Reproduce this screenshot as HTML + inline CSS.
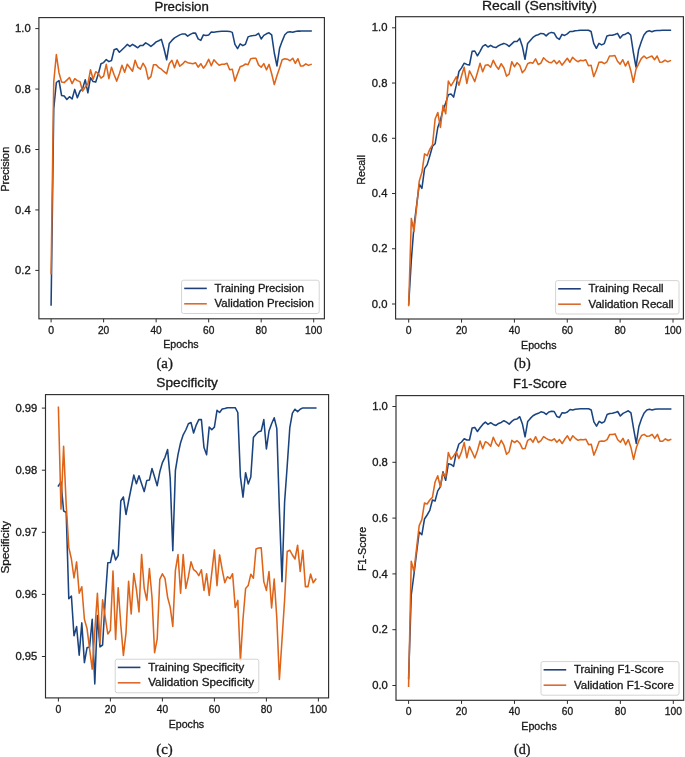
<!DOCTYPE html>
<html><head><meta charset="utf-8"><style>
html,body{margin:0;padding:0;background:#fff;}
svg{display:block;will-change:transform;}
text{fill:#1a1a1a;stroke:#1a1a1a;stroke-width:0.3px;}
</style></head><body>
<svg width="685" height="757" viewBox="0 0 685 757">
<rect width="685" height="757" fill="#ffffff"/>
<polyline points="51.10,305.00 53.73,109.00 56.35,82.50 58.98,80.50 61.60,95.50 64.23,96.00 66.86,99.50 69.48,96.70 72.11,99.00 74.73,89.40 77.36,97.70 79.99,91.10 82.61,88.60 85.24,79.70 87.86,92.80 90.49,77.70 93.12,81.60 95.74,82.10 98.37,73.70 100.99,63.70 103.62,62.60 106.25,59.60 108.87,61.60 111.50,60.50 114.12,49.80 116.75,48.80 119.38,52.30 122.00,49.80 124.63,47.30 127.25,44.40 129.88,46.40 132.51,44.40 135.13,46.00 137.76,47.80 140.38,45.40 143.01,45.40 145.64,42.90 148.26,44.40 150.89,46.40 153.51,44.40 156.14,41.90 158.77,40.70 161.39,39.40 164.02,48.80 166.64,59.80 169.27,43.40 171.90,40.40 174.52,37.90 177.15,36.40 179.77,34.90 182.40,33.90 185.03,33.90 187.65,36.10 190.28,34.40 192.90,33.10 195.53,33.10 198.16,38.90 200.78,40.40 203.41,34.90 206.03,35.40 208.66,34.90 211.29,32.00 213.91,32.20 216.54,31.70 219.16,31.40 221.79,31.30 224.42,31.20 227.04,31.20 229.67,31.40 232.29,32.40 234.92,44.40 237.55,48.60 240.17,43.90 242.80,45.60 245.42,44.30 248.05,36.90 250.68,35.90 253.30,35.60 255.93,35.20 258.55,33.30 261.18,39.00 263.81,35.40 266.43,33.80 269.06,32.80 271.68,34.80 274.31,53.00 276.94,65.90 279.56,48.30 282.19,41.10 284.81,34.80 287.44,32.30 290.07,31.70 292.69,32.30 295.32,31.50 297.94,31.10 300.57,31.10 303.20,31.00 305.82,31.00 308.45,31.00 311.07,31.00" fill="none" stroke="#1a4480" stroke-width="1.55" stroke-linejoin="round" stroke-linecap="square"/>
<polyline points="51.10,273.60 53.73,82.00 56.35,54.50 58.98,72.70 61.60,82.10 64.23,82.60 66.86,80.10 69.48,77.50 72.11,83.60 74.73,78.70 77.36,80.60 79.99,81.60 82.61,91.10 85.24,87.10 87.86,84.10 90.49,69.70 93.12,79.20 95.74,71.70 98.37,73.70 100.99,78.20 103.62,76.20 106.25,64.30 108.87,78.70 111.50,67.20 114.12,74.70 116.75,81.10 119.38,73.70 122.00,65.20 124.63,72.20 127.25,64.20 129.88,67.70 132.51,71.20 135.13,60.30 137.76,67.20 140.38,69.20 143.01,63.20 145.64,67.70 148.26,79.10 150.89,76.60 153.51,64.70 156.14,64.70 158.77,67.70 161.39,69.20 164.02,71.70 166.64,73.70 169.27,63.70 171.90,60.30 174.52,67.70 177.15,60.00 179.77,66.20 182.40,64.20 185.03,61.20 187.65,62.70 190.28,63.20 192.90,63.70 195.53,62.70 198.16,67.20 200.78,63.70 203.41,68.20 206.03,64.70 208.66,59.30 211.29,65.70 213.91,59.80 216.54,62.70 219.16,65.20 221.79,64.20 224.42,64.20 227.04,63.20 229.67,69.70 232.29,69.20 234.92,81.10 237.55,73.70 240.17,66.70 242.80,65.80 245.42,64.00 248.05,64.70 250.68,58.70 253.30,58.20 255.93,58.20 258.55,64.90 261.18,67.30 263.81,63.60 266.43,69.80 269.06,64.40 271.68,73.70 274.31,84.60 276.94,75.80 279.56,68.00 282.19,59.70 284.81,58.70 287.44,59.20 290.07,60.80 292.69,58.20 295.32,63.40 297.94,58.70 300.57,65.90 303.20,65.90 305.82,63.90 308.45,65.40 311.07,64.40" fill="none" stroke="#de6419" stroke-width="1.55" stroke-linejoin="round" stroke-linecap="square"/>
<rect x="38.90" y="17.60" width="285.50" height="301.20" fill="none" stroke="#2e2e2e" stroke-width="1.15"/>
<line x1="51.10" y1="318.80" x2="51.10" y2="322.40" stroke="#2e2e2e" stroke-width="1"/>
<text x="51.1" y="333.8" font-size="10" text-anchor="middle" font-family="Liberation Sans" textLength="5.8" lengthAdjust="spacingAndGlyphs">0</text>
<line x1="103.62" y1="318.80" x2="103.62" y2="322.40" stroke="#2e2e2e" stroke-width="1"/>
<text x="103.6" y="333.8" font-size="10" text-anchor="middle" font-family="Liberation Sans" textLength="11.3" lengthAdjust="spacingAndGlyphs">20</text>
<line x1="156.14" y1="318.80" x2="156.14" y2="322.40" stroke="#2e2e2e" stroke-width="1"/>
<text x="156.1" y="333.8" font-size="10" text-anchor="middle" font-family="Liberation Sans" textLength="11.3" lengthAdjust="spacingAndGlyphs">40</text>
<line x1="208.66" y1="318.80" x2="208.66" y2="322.40" stroke="#2e2e2e" stroke-width="1"/>
<text x="208.7" y="333.8" font-size="10" text-anchor="middle" font-family="Liberation Sans" textLength="11.3" lengthAdjust="spacingAndGlyphs">60</text>
<line x1="261.18" y1="318.80" x2="261.18" y2="322.40" stroke="#2e2e2e" stroke-width="1"/>
<text x="261.2" y="333.8" font-size="10" text-anchor="middle" font-family="Liberation Sans" textLength="11.3" lengthAdjust="spacingAndGlyphs">80</text>
<line x1="313.70" y1="318.80" x2="313.70" y2="322.40" stroke="#2e2e2e" stroke-width="1"/>
<text x="313.7" y="333.8" font-size="10" text-anchor="middle" font-family="Liberation Sans" textLength="17.2" lengthAdjust="spacingAndGlyphs">100</text>
<line x1="35.30" y1="270.40" x2="38.90" y2="270.40" stroke="#2e2e2e" stroke-width="1"/>
<text x="30.7" y="274.0" font-size="10" text-anchor="end" font-family="Liberation Sans" textLength="15.6" lengthAdjust="spacingAndGlyphs">0.2</text>
<line x1="35.30" y1="209.95" x2="38.90" y2="209.95" stroke="#2e2e2e" stroke-width="1"/>
<text x="30.7" y="213.5" font-size="10" text-anchor="end" font-family="Liberation Sans" textLength="15.6" lengthAdjust="spacingAndGlyphs">0.4</text>
<line x1="35.30" y1="149.50" x2="38.90" y2="149.50" stroke="#2e2e2e" stroke-width="1"/>
<text x="30.7" y="153.1" font-size="10" text-anchor="end" font-family="Liberation Sans" textLength="15.6" lengthAdjust="spacingAndGlyphs">0.6</text>
<line x1="35.30" y1="89.05" x2="38.90" y2="89.05" stroke="#2e2e2e" stroke-width="1"/>
<text x="30.7" y="92.6" font-size="10" text-anchor="end" font-family="Liberation Sans" textLength="15.6" lengthAdjust="spacingAndGlyphs">0.8</text>
<line x1="35.30" y1="28.60" x2="38.90" y2="28.60" stroke="#2e2e2e" stroke-width="1"/>
<text x="30.7" y="32.2" font-size="10" text-anchor="end" font-family="Liberation Sans" textLength="15.6" lengthAdjust="spacingAndGlyphs">1.0</text>
<text x="181.6" y="11.2" font-size="12" text-anchor="middle" font-family="Liberation Sans" textLength="54.4" lengthAdjust="spacingAndGlyphs">Precision</text>
<text x="180.9" y="348.4" font-size="10" text-anchor="middle" font-family="Liberation Sans" textLength="35.5" lengthAdjust="spacingAndGlyphs">Epochs</text>
<text transform="translate(9.0,169.2) rotate(-90)" x="0" y="0" font-size="10" text-anchor="middle" font-family="Liberation Sans" textLength="45.0" lengthAdjust="spacingAndGlyphs">Precision</text>
<text x="156.4" y="368.2" font-size="14.5" text-anchor="start" font-family="Liberation Serif" textLength="16.6" lengthAdjust="spacingAndGlyphs">(a)</text>
<rect x="181.6" y="280.2" width="137.6" height="33.3" rx="2" fill="#ffffff" fill-opacity="0.85" stroke="#d4d4d4" stroke-width="1"/>
<line x1="184.2" y1="288.4" x2="206.8" y2="288.4" stroke="#213f78" stroke-width="1.6"/>
<line x1="184.2" y1="303.8" x2="206.8" y2="303.8" stroke="#dc6a30" stroke-width="1.6"/>
<text x="214.6" y="292.0" font-size="10" text-anchor="start" font-family="Liberation Sans" textLength="89.5" lengthAdjust="spacingAndGlyphs">Training Precision</text>
<text x="214.6" y="307.4" font-size="10" text-anchor="start" font-family="Liberation Sans" textLength="99.3" lengthAdjust="spacingAndGlyphs">Validation Precision</text>
<polyline points="408.70,304.00 411.34,260.00 413.99,226.00 416.63,205.00 419.27,184.20 421.91,188.40 424.56,168.70 427.20,164.60 429.84,155.70 432.49,146.20 435.13,143.80 437.77,127.50 440.42,120.00 443.06,110.00 445.70,103.00 448.34,94.70 450.99,94.10 453.63,97.10 456.27,85.20 458.92,71.50 461.56,67.90 464.20,63.20 466.85,64.40 469.49,65.00 472.13,51.30 474.77,51.00 477.42,55.80 480.06,51.30 482.70,46.40 485.35,44.70 487.99,47.00 490.63,45.40 493.28,47.00 495.92,47.60 498.56,45.70 501.20,44.40 503.85,43.40 506.49,44.40 509.13,46.40 511.78,43.90 514.42,41.40 517.06,41.40 519.71,38.40 522.35,46.40 524.99,59.30 527.63,43.40 530.28,40.40 532.92,37.40 535.56,35.60 538.21,34.70 540.85,33.40 543.49,33.70 546.14,35.90 548.78,33.40 551.42,32.40 554.06,32.90 556.71,37.70 559.35,39.40 561.99,34.40 564.64,35.40 567.28,33.90 569.92,31.50 572.57,31.50 575.21,30.70 577.85,30.50 580.50,30.20 583.14,30.20 585.78,30.20 588.42,30.20 591.07,31.50 593.71,43.40 596.35,48.30 599.00,43.40 601.64,44.90 604.28,43.60 606.92,36.00 609.57,35.30 612.21,35.20 614.85,34.50 617.50,33.40 620.14,38.10 622.78,35.00 625.43,34.20 628.07,32.60 630.71,35.00 633.36,52.30 636.00,67.00 638.64,49.70 641.28,41.80 643.93,35.00 646.57,31.80 649.21,30.80 651.86,31.80 654.50,30.80 657.14,30.50 659.78,30.40 662.43,30.30 665.07,30.30 667.71,30.30 670.36,30.30" fill="none" stroke="#1a4480" stroke-width="1.55" stroke-linejoin="round" stroke-linecap="square"/>
<polyline points="408.70,305.40 411.34,218.40 413.99,231.50 416.63,207.00 419.27,181.00 421.91,172.30 424.56,153.90 427.20,155.70 429.84,149.10 432.49,145.00 435.13,119.00 437.77,112.50 440.42,127.40 443.06,105.40 445.70,113.70 448.34,81.00 450.99,85.80 453.63,81.60 456.27,76.90 458.92,85.20 461.56,75.70 464.20,67.30 466.85,83.40 469.49,70.90 472.13,76.00 474.77,81.60 477.42,72.70 480.06,63.20 482.70,71.70 485.35,65.20 487.99,64.70 490.63,67.20 493.28,60.30 495.92,65.70 498.56,69.20 501.20,63.70 503.85,67.70 506.49,76.10 509.13,74.20 511.78,61.70 514.42,66.70 517.06,62.70 519.71,65.20 522.35,72.70 524.99,69.70 527.63,63.70 530.28,62.50 532.92,63.20 535.56,58.80 538.21,64.50 540.85,63.20 543.49,57.80 546.14,60.30 548.78,62.20 551.42,62.70 554.06,60.30 556.71,63.70 559.35,60.80 561.99,65.20 564.64,61.70 567.28,58.30 569.92,62.20 572.57,57.30 575.21,59.80 577.85,61.70 580.50,60.30 583.14,60.80 585.78,59.80 588.42,65.70 591.07,65.20 593.71,76.60 596.35,70.20 599.00,62.20 601.64,62.00 604.28,63.60 606.92,61.80 609.57,56.00 612.21,56.00 614.85,55.50 617.50,61.30 620.14,64.10 622.78,59.70 625.43,66.00 628.07,61.30 630.71,70.20 633.36,82.30 636.00,69.10 638.64,63.90 641.28,58.60 643.93,56.00 646.57,58.40 649.21,57.10 651.86,56.00 654.50,59.70 657.14,56.00 659.78,62.30 662.43,62.00 665.07,60.20 667.71,61.80 670.36,60.70" fill="none" stroke="#de6419" stroke-width="1.55" stroke-linejoin="round" stroke-linecap="square"/>
<rect x="395.60" y="16.70" width="287.80" height="302.30" fill="none" stroke="#2e2e2e" stroke-width="1.15"/>
<line x1="408.70" y1="319.00" x2="408.70" y2="322.60" stroke="#2e2e2e" stroke-width="1"/>
<text x="408.7" y="334.0" font-size="10" text-anchor="middle" font-family="Liberation Sans" textLength="5.8" lengthAdjust="spacingAndGlyphs">0</text>
<line x1="461.56" y1="319.00" x2="461.56" y2="322.60" stroke="#2e2e2e" stroke-width="1"/>
<text x="461.6" y="334.0" font-size="10" text-anchor="middle" font-family="Liberation Sans" textLength="11.3" lengthAdjust="spacingAndGlyphs">20</text>
<line x1="514.42" y1="319.00" x2="514.42" y2="322.60" stroke="#2e2e2e" stroke-width="1"/>
<text x="514.4" y="334.0" font-size="10" text-anchor="middle" font-family="Liberation Sans" textLength="11.3" lengthAdjust="spacingAndGlyphs">40</text>
<line x1="567.28" y1="319.00" x2="567.28" y2="322.60" stroke="#2e2e2e" stroke-width="1"/>
<text x="567.3" y="334.0" font-size="10" text-anchor="middle" font-family="Liberation Sans" textLength="11.3" lengthAdjust="spacingAndGlyphs">60</text>
<line x1="620.14" y1="319.00" x2="620.14" y2="322.60" stroke="#2e2e2e" stroke-width="1"/>
<text x="620.1" y="334.0" font-size="10" text-anchor="middle" font-family="Liberation Sans" textLength="11.3" lengthAdjust="spacingAndGlyphs">80</text>
<line x1="673.00" y1="319.00" x2="673.00" y2="322.60" stroke="#2e2e2e" stroke-width="1"/>
<text x="673.0" y="334.0" font-size="10" text-anchor="middle" font-family="Liberation Sans" textLength="17.2" lengthAdjust="spacingAndGlyphs">100</text>
<line x1="392.00" y1="304.00" x2="395.60" y2="304.00" stroke="#2e2e2e" stroke-width="1"/>
<text x="387.4" y="307.6" font-size="10" text-anchor="end" font-family="Liberation Sans" textLength="15.6" lengthAdjust="spacingAndGlyphs">0.0</text>
<line x1="392.00" y1="248.76" x2="395.60" y2="248.76" stroke="#2e2e2e" stroke-width="1"/>
<text x="387.4" y="252.4" font-size="10" text-anchor="end" font-family="Liberation Sans" textLength="15.6" lengthAdjust="spacingAndGlyphs">0.2</text>
<line x1="392.00" y1="193.52" x2="395.60" y2="193.52" stroke="#2e2e2e" stroke-width="1"/>
<text x="387.4" y="197.1" font-size="10" text-anchor="end" font-family="Liberation Sans" textLength="15.6" lengthAdjust="spacingAndGlyphs">0.4</text>
<line x1="392.00" y1="138.28" x2="395.60" y2="138.28" stroke="#2e2e2e" stroke-width="1"/>
<text x="387.4" y="141.9" font-size="10" text-anchor="end" font-family="Liberation Sans" textLength="15.6" lengthAdjust="spacingAndGlyphs">0.6</text>
<line x1="392.00" y1="83.04" x2="395.60" y2="83.04" stroke="#2e2e2e" stroke-width="1"/>
<text x="387.4" y="86.6" font-size="10" text-anchor="end" font-family="Liberation Sans" textLength="15.6" lengthAdjust="spacingAndGlyphs">0.8</text>
<line x1="392.00" y1="27.80" x2="395.60" y2="27.80" stroke="#2e2e2e" stroke-width="1"/>
<text x="387.4" y="31.4" font-size="10" text-anchor="end" font-family="Liberation Sans" textLength="15.6" lengthAdjust="spacingAndGlyphs">1.0</text>
<text x="539.5" y="10.3" font-size="12" text-anchor="middle" font-family="Liberation Sans" textLength="115.0" lengthAdjust="spacingAndGlyphs">Recall (Sensitivity)</text>
<text x="538.8" y="348.6" font-size="10" text-anchor="middle" font-family="Liberation Sans" textLength="35.5" lengthAdjust="spacingAndGlyphs">Epochs</text>
<text transform="translate(365.4,169.8) rotate(-90)" x="0" y="0" font-size="10" text-anchor="middle" font-family="Liberation Sans" textLength="29.7" lengthAdjust="spacingAndGlyphs">Recall</text>
<text x="514.1" y="368.2" font-size="14.5" text-anchor="start" font-family="Liberation Serif" textLength="16.6" lengthAdjust="spacingAndGlyphs">(b)</text>
<rect x="555.6" y="280.6" width="123.4" height="33.4" rx="2" fill="#ffffff" fill-opacity="0.85" stroke="#d4d4d4" stroke-width="1"/>
<line x1="558.2" y1="288.8" x2="580.8" y2="288.8" stroke="#213f78" stroke-width="1.6"/>
<line x1="558.2" y1="304.2" x2="580.8" y2="304.2" stroke="#dc6a30" stroke-width="1.6"/>
<text x="588.6" y="292.4" font-size="10" text-anchor="start" font-family="Liberation Sans" textLength="75.0" lengthAdjust="spacingAndGlyphs">Training Recall</text>
<text x="588.6" y="307.8" font-size="10" text-anchor="start" font-family="Liberation Sans" textLength="85.0" lengthAdjust="spacingAndGlyphs">Validation Recall</text>
<polyline points="58.40,486.00 61.00,482.00 63.60,511.00 66.20,512.40 68.80,598.80 71.40,596.00 74.00,635.80 76.60,626.60 79.20,655.20 81.80,622.90 84.40,662.60 87.00,647.80 89.60,646.90 92.20,619.20 94.80,683.90 97.40,615.50 100.00,646.90 102.60,645.00 105.20,600.00 107.80,562.70 110.40,562.60 113.00,550.00 115.60,559.90 118.20,555.30 120.80,501.00 123.40,497.00 126.00,514.50 128.60,501.00 131.20,488.00 133.80,475.10 136.40,483.70 139.00,475.80 141.60,483.70 144.20,491.60 146.80,480.40 149.40,480.10 152.00,468.50 154.60,477.00 157.20,485.70 159.80,471.80 162.40,462.60 165.00,457.30 167.60,449.60 170.20,478.40 172.80,550.60 175.40,470.50 178.00,454.60 180.60,442.70 183.20,434.80 185.80,430.00 188.40,423.70 191.00,422.50 193.60,433.00 196.20,425.10 198.80,419.60 201.40,419.60 204.00,447.60 206.60,454.80 209.20,427.10 211.80,429.70 214.40,427.10 217.00,410.30 219.60,412.50 222.20,409.00 224.80,408.60 227.40,407.70 230.00,407.70 232.60,407.70 235.20,407.70 237.80,412.50 240.40,476.60 243.00,497.10 245.60,472.70 248.20,483.90 250.80,477.00 253.40,437.60 256.00,434.30 258.60,431.70 261.20,431.00 263.80,419.60 266.40,448.90 269.00,431.00 271.60,423.80 274.20,417.80 276.80,428.40 279.40,510.00 282.00,581.60 284.60,502.00 287.20,466.00 289.80,427.70 292.40,413.20 295.00,409.20 297.60,411.60 300.20,409.20 302.80,407.90 305.40,407.90 308.00,407.90 310.60,407.90 313.20,407.90 315.80,407.90" fill="none" stroke="#1a4480" stroke-width="1.55" stroke-linejoin="round" stroke-linecap="square"/>
<polyline points="58.40,407.30 61.00,509.10 63.60,446.20 66.20,505.00 68.80,547.40 71.40,559.00 74.00,578.00 76.60,561.90 79.20,593.30 81.80,586.80 84.40,619.20 87.00,628.40 89.60,648.80 92.20,669.10 94.80,631.00 97.40,593.30 100.00,643.20 102.60,599.80 105.20,617.00 107.80,634.00 110.40,630.30 113.00,571.10 115.60,639.50 118.20,587.70 120.80,625.00 123.40,655.40 126.00,632.80 128.60,581.30 131.20,614.00 133.80,573.40 136.40,589.30 139.00,612.00 141.60,554.60 144.20,588.30 146.80,600.20 149.40,568.50 152.00,597.20 154.60,652.70 157.20,638.80 159.80,579.30 162.40,573.80 165.00,578.40 167.60,597.20 170.20,607.10 172.80,626.50 175.40,570.40 178.00,554.60 180.60,593.20 183.20,554.60 185.80,588.40 188.40,576.70 191.00,561.80 193.60,569.70 196.20,571.70 198.80,575.70 201.40,569.70 204.00,590.50 206.60,573.70 209.20,595.50 211.80,572.70 214.40,549.90 217.00,585.60 219.60,554.90 222.20,569.70 224.80,582.60 227.40,576.70 230.00,578.60 232.60,573.70 235.20,607.40 237.80,600.40 240.40,661.00 243.00,619.30 245.60,588.50 248.20,585.60 250.80,574.30 253.40,578.20 256.00,549.00 258.60,548.00 261.20,547.70 263.80,581.60 266.40,590.40 269.00,571.50 271.60,607.90 274.20,579.10 276.80,618.00 279.40,679.50 282.00,640.00 284.60,600.00 287.20,551.50 289.80,550.20 292.40,555.00 295.00,559.00 297.60,545.20 300.20,571.50 302.80,550.20 305.40,586.60 308.00,586.60 310.60,574.00 313.20,582.80 315.80,579.10" fill="none" stroke="#de6419" stroke-width="1.55" stroke-linejoin="round" stroke-linecap="square"/>
<rect x="45.50" y="394.60" width="283.10" height="303.30" fill="none" stroke="#2e2e2e" stroke-width="1.15"/>
<line x1="58.40" y1="697.90" x2="58.40" y2="701.50" stroke="#2e2e2e" stroke-width="1"/>
<text x="58.4" y="712.9" font-size="10" text-anchor="middle" font-family="Liberation Sans" textLength="5.8" lengthAdjust="spacingAndGlyphs">0</text>
<line x1="110.40" y1="697.90" x2="110.40" y2="701.50" stroke="#2e2e2e" stroke-width="1"/>
<text x="110.4" y="712.9" font-size="10" text-anchor="middle" font-family="Liberation Sans" textLength="11.3" lengthAdjust="spacingAndGlyphs">20</text>
<line x1="162.40" y1="697.90" x2="162.40" y2="701.50" stroke="#2e2e2e" stroke-width="1"/>
<text x="162.4" y="712.9" font-size="10" text-anchor="middle" font-family="Liberation Sans" textLength="11.3" lengthAdjust="spacingAndGlyphs">40</text>
<line x1="214.40" y1="697.90" x2="214.40" y2="701.50" stroke="#2e2e2e" stroke-width="1"/>
<text x="214.4" y="712.9" font-size="10" text-anchor="middle" font-family="Liberation Sans" textLength="11.3" lengthAdjust="spacingAndGlyphs">60</text>
<line x1="266.40" y1="697.90" x2="266.40" y2="701.50" stroke="#2e2e2e" stroke-width="1"/>
<text x="266.4" y="712.9" font-size="10" text-anchor="middle" font-family="Liberation Sans" textLength="11.3" lengthAdjust="spacingAndGlyphs">80</text>
<line x1="318.40" y1="697.90" x2="318.40" y2="701.50" stroke="#2e2e2e" stroke-width="1"/>
<text x="318.4" y="712.9" font-size="10" text-anchor="middle" font-family="Liberation Sans" textLength="17.2" lengthAdjust="spacingAndGlyphs">100</text>
<line x1="41.90" y1="656.50" x2="45.50" y2="656.50" stroke="#2e2e2e" stroke-width="1"/>
<text x="37.3" y="660.1" font-size="10" text-anchor="end" font-family="Liberation Sans" textLength="21.8" lengthAdjust="spacingAndGlyphs">0.95</text>
<line x1="41.90" y1="594.40" x2="45.50" y2="594.40" stroke="#2e2e2e" stroke-width="1"/>
<text x="37.3" y="598.0" font-size="10" text-anchor="end" font-family="Liberation Sans" textLength="21.8" lengthAdjust="spacingAndGlyphs">0.96</text>
<line x1="41.90" y1="532.30" x2="45.50" y2="532.30" stroke="#2e2e2e" stroke-width="1"/>
<text x="37.3" y="535.9" font-size="10" text-anchor="end" font-family="Liberation Sans" textLength="21.8" lengthAdjust="spacingAndGlyphs">0.97</text>
<line x1="41.90" y1="470.20" x2="45.50" y2="470.20" stroke="#2e2e2e" stroke-width="1"/>
<text x="37.3" y="473.8" font-size="10" text-anchor="end" font-family="Liberation Sans" textLength="21.8" lengthAdjust="spacingAndGlyphs">0.98</text>
<line x1="41.90" y1="408.10" x2="45.50" y2="408.10" stroke="#2e2e2e" stroke-width="1"/>
<text x="37.3" y="411.7" font-size="10" text-anchor="end" font-family="Liberation Sans" textLength="21.8" lengthAdjust="spacingAndGlyphs">0.99</text>
<text x="187.1" y="387.4" font-size="12" text-anchor="middle" font-family="Liberation Sans" textLength="61.5" lengthAdjust="spacingAndGlyphs">Specificity</text>
<text x="186.4" y="727.5" font-size="10" text-anchor="middle" font-family="Liberation Sans" textLength="35.5" lengthAdjust="spacingAndGlyphs">Epochs</text>
<text transform="translate(8.6,547.2) rotate(-90)" x="0" y="0" font-size="10" text-anchor="middle" font-family="Liberation Sans" textLength="52.6" lengthAdjust="spacingAndGlyphs">Specificity</text>
<text x="156.2" y="753.6" font-size="14.5" text-anchor="start" font-family="Liberation Serif" textLength="16.6" lengthAdjust="spacingAndGlyphs">(c)</text>
<rect x="115.2" y="659.2" width="143.6" height="33.6" rx="2" fill="#ffffff" fill-opacity="0.85" stroke="#d4d4d4" stroke-width="1"/>
<line x1="117.8" y1="667.4" x2="140.4" y2="667.4" stroke="#213f78" stroke-width="1.6"/>
<line x1="117.8" y1="682.8" x2="140.4" y2="682.8" stroke="#dc6a30" stroke-width="1.6"/>
<text x="148.2" y="671.0" font-size="10" text-anchor="start" font-family="Liberation Sans" textLength="96.0" lengthAdjust="spacingAndGlyphs">Training Specificity</text>
<text x="148.2" y="686.4" font-size="10" text-anchor="start" font-family="Liberation Sans" textLength="106.0" lengthAdjust="spacingAndGlyphs">Validation Specificity</text>
<polyline points="408.60,678.50 411.25,595.00 413.89,575.00 416.54,553.00 419.19,532.00 421.84,534.80 424.48,519.00 427.13,515.00 429.78,510.40 432.42,500.00 435.07,501.00 437.72,490.90 440.36,486.90 443.01,471.70 445.66,480.30 448.31,463.80 450.95,464.40 453.60,466.40 456.25,452.60 458.89,444.00 461.54,442.00 464.19,438.70 466.83,440.00 469.48,440.00 472.13,428.00 474.78,427.40 477.42,431.50 480.07,427.70 482.72,424.40 485.36,422.10 488.01,424.40 490.66,422.70 493.30,424.40 495.95,425.40 498.60,423.40 501.25,422.40 503.89,420.70 506.54,422.10 509.19,424.10 511.83,421.40 514.48,419.40 517.13,418.90 519.77,416.70 522.42,423.90 525.07,436.80 527.72,421.40 530.36,418.40 533.01,415.70 535.66,414.30 538.30,413.30 540.95,411.80 543.60,412.40 546.24,414.40 548.89,412.00 551.54,411.20 554.18,411.50 556.83,416.40 559.48,417.40 562.13,412.70 564.77,413.10 567.42,412.00 570.07,409.50 572.71,410.00 575.36,409.20 578.01,409.00 580.65,408.80 583.30,408.80 585.95,408.80 588.60,408.80 591.24,410.00 593.89,421.90 596.54,426.10 599.18,421.40 601.83,423.00 604.48,421.60 607.12,414.50 609.77,413.60 612.42,413.20 615.07,412.60 617.71,411.50 620.36,416.00 623.01,413.40 625.65,412.10 628.30,410.80 630.95,412.90 633.60,428.60 636.24,443.40 638.89,426.50 641.54,418.70 644.18,412.90 646.83,410.00 649.48,409.20 652.12,410.00 654.77,409.20 657.42,409.00 660.07,409.00 662.71,409.00 665.36,409.00 668.01,409.00 670.65,409.00" fill="none" stroke="#1a4480" stroke-width="1.55" stroke-linejoin="round" stroke-linecap="square"/>
<polyline points="408.60,686.20 411.25,561.20 413.89,571.50 416.54,548.70 419.19,525.60 421.84,519.60 424.48,503.00 427.13,504.00 429.78,500.00 432.42,497.40 435.07,482.00 437.72,475.70 440.36,486.90 443.01,473.00 445.66,477.00 448.31,452.60 450.95,459.20 453.60,455.90 456.25,451.90 458.89,458.50 461.54,451.90 464.19,442.60 466.83,457.80 469.48,446.60 472.13,452.00 474.78,458.00 477.42,450.70 480.07,441.00 482.72,448.70 485.36,441.70 488.01,443.20 490.66,446.20 493.30,437.30 495.95,443.20 498.60,446.20 501.25,440.30 503.89,445.20 506.54,454.20 509.19,451.70 511.83,440.30 514.48,442.50 517.13,440.70 519.77,443.20 522.42,448.70 525.07,448.50 527.72,440.30 530.36,438.80 533.01,442.20 535.66,436.70 538.30,442.50 540.95,440.70 543.60,436.60 546.24,438.30 548.89,439.80 551.54,440.60 554.18,438.80 556.83,442.20 559.48,439.60 562.13,443.50 564.77,439.30 567.42,435.80 570.07,440.70 572.71,435.80 575.36,438.30 578.01,440.30 580.65,439.60 583.30,439.80 585.95,439.30 588.60,444.70 591.24,444.20 593.89,455.10 596.54,448.70 599.18,441.50 601.83,440.90 604.48,441.20 607.12,439.70 609.77,434.40 612.42,434.40 615.07,433.90 617.71,439.70 620.36,442.30 623.01,438.40 625.65,444.70 628.30,439.70 630.95,447.60 633.60,459.40 636.24,448.10 638.89,440.70 641.54,435.50 644.18,434.40 646.83,436.30 649.48,436.00 652.12,434.40 654.77,438.40 657.42,434.40 660.07,441.30 662.71,441.30 665.36,438.80 668.01,440.50 670.65,439.50" fill="none" stroke="#de6419" stroke-width="1.55" stroke-linejoin="round" stroke-linecap="square"/>
<rect x="396.00" y="395.60" width="287.70" height="304.70" fill="none" stroke="#2e2e2e" stroke-width="1.15"/>
<line x1="408.60" y1="700.30" x2="408.60" y2="703.90" stroke="#2e2e2e" stroke-width="1"/>
<text x="408.6" y="715.3" font-size="10" text-anchor="middle" font-family="Liberation Sans" textLength="5.8" lengthAdjust="spacingAndGlyphs">0</text>
<line x1="461.54" y1="700.30" x2="461.54" y2="703.90" stroke="#2e2e2e" stroke-width="1"/>
<text x="461.5" y="715.3" font-size="10" text-anchor="middle" font-family="Liberation Sans" textLength="11.3" lengthAdjust="spacingAndGlyphs">20</text>
<line x1="514.48" y1="700.30" x2="514.48" y2="703.90" stroke="#2e2e2e" stroke-width="1"/>
<text x="514.5" y="715.3" font-size="10" text-anchor="middle" font-family="Liberation Sans" textLength="11.3" lengthAdjust="spacingAndGlyphs">40</text>
<line x1="567.42" y1="700.30" x2="567.42" y2="703.90" stroke="#2e2e2e" stroke-width="1"/>
<text x="567.4" y="715.3" font-size="10" text-anchor="middle" font-family="Liberation Sans" textLength="11.3" lengthAdjust="spacingAndGlyphs">60</text>
<line x1="620.36" y1="700.30" x2="620.36" y2="703.90" stroke="#2e2e2e" stroke-width="1"/>
<text x="620.4" y="715.3" font-size="10" text-anchor="middle" font-family="Liberation Sans" textLength="11.3" lengthAdjust="spacingAndGlyphs">80</text>
<line x1="673.30" y1="700.30" x2="673.30" y2="703.90" stroke="#2e2e2e" stroke-width="1"/>
<text x="673.3" y="715.3" font-size="10" text-anchor="middle" font-family="Liberation Sans" textLength="17.2" lengthAdjust="spacingAndGlyphs">100</text>
<line x1="392.40" y1="685.50" x2="396.00" y2="685.50" stroke="#2e2e2e" stroke-width="1"/>
<text x="387.8" y="689.1" font-size="10" text-anchor="end" font-family="Liberation Sans" textLength="15.6" lengthAdjust="spacingAndGlyphs">0.0</text>
<line x1="392.40" y1="629.70" x2="396.00" y2="629.70" stroke="#2e2e2e" stroke-width="1"/>
<text x="387.8" y="633.3" font-size="10" text-anchor="end" font-family="Liberation Sans" textLength="15.6" lengthAdjust="spacingAndGlyphs">0.2</text>
<line x1="392.40" y1="573.90" x2="396.00" y2="573.90" stroke="#2e2e2e" stroke-width="1"/>
<text x="387.8" y="577.5" font-size="10" text-anchor="end" font-family="Liberation Sans" textLength="15.6" lengthAdjust="spacingAndGlyphs">0.4</text>
<line x1="392.40" y1="518.10" x2="396.00" y2="518.10" stroke="#2e2e2e" stroke-width="1"/>
<text x="387.8" y="521.7" font-size="10" text-anchor="end" font-family="Liberation Sans" textLength="15.6" lengthAdjust="spacingAndGlyphs">0.6</text>
<line x1="392.40" y1="462.30" x2="396.00" y2="462.30" stroke="#2e2e2e" stroke-width="1"/>
<text x="387.8" y="465.9" font-size="10" text-anchor="end" font-family="Liberation Sans" textLength="15.6" lengthAdjust="spacingAndGlyphs">0.8</text>
<line x1="392.40" y1="406.50" x2="396.00" y2="406.50" stroke="#2e2e2e" stroke-width="1"/>
<text x="387.8" y="410.1" font-size="10" text-anchor="end" font-family="Liberation Sans" textLength="15.6" lengthAdjust="spacingAndGlyphs">1.0</text>
<text x="539.9" y="388.4" font-size="12" text-anchor="middle" font-family="Liberation Sans" textLength="53.6" lengthAdjust="spacingAndGlyphs">F1-Score</text>
<text x="539.1" y="729.9" font-size="10" text-anchor="middle" font-family="Liberation Sans" textLength="35.5" lengthAdjust="spacingAndGlyphs">Epochs</text>
<text transform="translate(366.2,549.0) rotate(-90)" x="0" y="0" font-size="10" text-anchor="middle" font-family="Liberation Sans" textLength="44.2" lengthAdjust="spacingAndGlyphs">F1-Score</text>
<text x="514.0" y="753.6" font-size="14.5" text-anchor="start" font-family="Liberation Serif" textLength="16.6" lengthAdjust="spacingAndGlyphs">(d)</text>
<rect x="541.0" y="661.6" width="138.0" height="33.6" rx="2" fill="#ffffff" fill-opacity="0.85" stroke="#d4d4d4" stroke-width="1"/>
<line x1="543.6" y1="669.8" x2="566.2" y2="669.8" stroke="#213f78" stroke-width="1.6"/>
<line x1="543.6" y1="685.2" x2="566.2" y2="685.2" stroke="#dc6a30" stroke-width="1.6"/>
<text x="574.0" y="673.4" font-size="10" text-anchor="start" font-family="Liberation Sans" textLength="89.8" lengthAdjust="spacingAndGlyphs">Training F1-Score</text>
<text x="574.0" y="688.8" font-size="10" text-anchor="start" font-family="Liberation Sans" textLength="99.8" lengthAdjust="spacingAndGlyphs">Validation F1-Score</text>
</svg>
</body></html>
